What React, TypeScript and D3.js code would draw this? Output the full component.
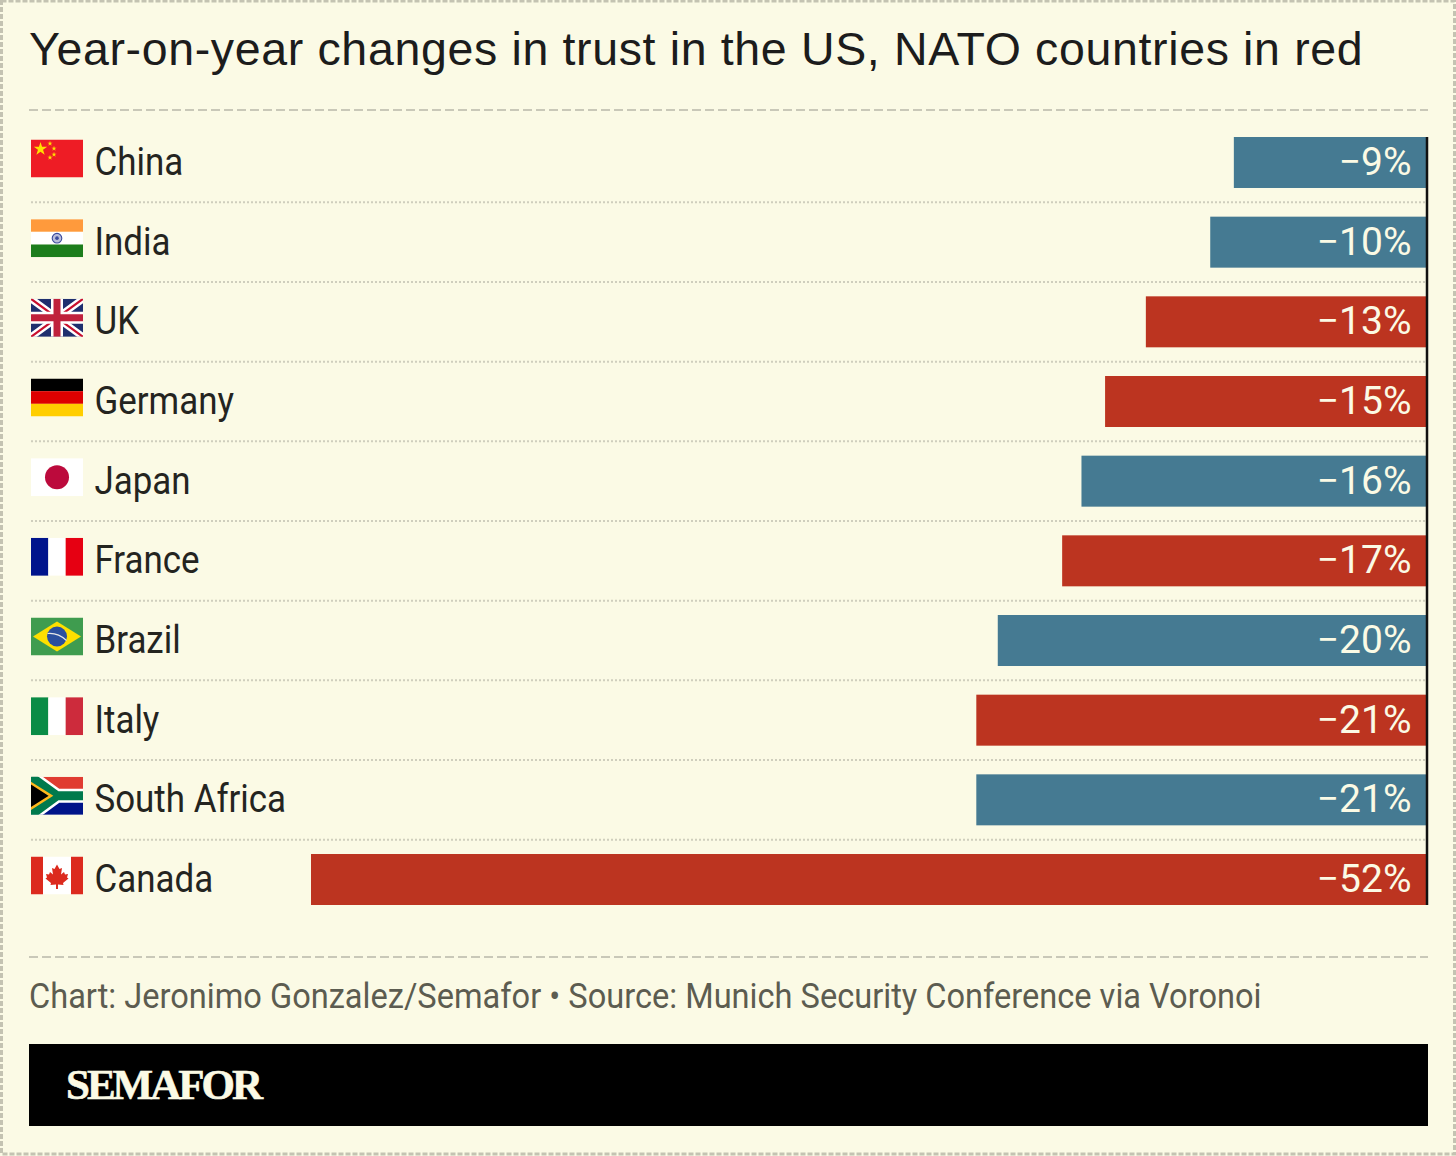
import * as d3 from 'd3';

const countries = ['China', 'India', 'UK', 'Germany', 'Japan', 'France', 'Brazil', 'Italy', 'South Africa', 'Canada'];
// bars are drawn from the unrounded look of the picture, labels show whole percents
const changes = [-9, -10.1, -13.1, -15, -16.1, -17, -20, -21, -21, -52];
const natoMembers = ['UK', 'Germany', 'France', 'Italy', 'Canada'];

const titleText = 'Year-on-year changes in trust in the US, NATO countries in red';
const footerText = 'Chart: Jeronimo Gonzalez/Semafor • Source: Munich Security Conference via Voronoi';
const brandText = 'SEMAFOR';

const width = 1456;
const height = 1156;
const bg = '#fbfae5';
const teal = '#457a92';
const red = '#bc3420';
const condensed = '"Roboto", sans-serif';

const FLAG_W = 52;
const FLAG_H = 38;

const x = d3.scaleLinear().domain([-52, 0]).range([311, 1427]);
const y = d3.scaleBand<string>().domain(countries).range([137, 905]).paddingInner(0.36);

const star = d3.symbol().type(d3.symbolStar);

function Stripes({ colors, vertical }: { colors: string[]; vertical?: boolean }) {
  const band = d3.scaleBand<number>().domain(colors.map((_c, i) => i)).range([0, vertical ? FLAG_W : FLAG_H]);
  return (
    <>
      {colors.map((c, i) =>
        vertical ? (
          <rect key={i} x={band(i)} y={0} width={band.bandwidth()} height={FLAG_H} fill={c} />
        ) : (
          <rect key={i} x={0} y={band(i)} width={FLAG_W} height={band.bandwidth()} fill={c} />
        ),
      )}
    </>
  );
}

function Flag({ name }: { name: string }) {
  switch (name) {
    case 'China':
      return (
        <>
          <rect width={FLAG_W} height={FLAG_H} fill="#ee1c25" />
          <path transform="translate(9.5,9.5)" d={star.size(55)() ?? ''} fill="#ffe000" />
          {[[19, 4], [23, 9], [23, 15], [19, 18]].map(([sx, sy], i) => (
            <path key={i} transform={`translate(${sx},${sy})`} d={star.size(8)() ?? ''} fill="#ffe000" />
          ))}
        </>
      );
    case 'India':
      return (
        <>
          <Stripes colors={['#ff9a3c', '#ffffff', '#1c7d1c']} />
          <circle cx={26} cy={19} r={4.8} fill="#b9bddb" stroke="#3a4a9c" strokeWidth={1.1} />
          <circle cx={26} cy={19} r={1.8} fill="#3a4a9c" />
        </>
      );
    case 'UK':
      return (
        <>
          <rect width={FLAG_W} height={FLAG_H} fill="#1f2f6e" />
          <path d="M0,0L52,38M52,0L0,38" stroke="#fff" strokeWidth={7} />
          <path d="M0,0L52,38M52,0L0,38" stroke="#c8102e" strokeWidth={2.2} />
          <path d="M26,0V38M0,19H52" stroke="#fff" strokeWidth={12} />
          <path d="M26,0V38M0,19H52" stroke="#c0213c" strokeWidth={7} />
        </>
      );
    case 'Germany':
      return <Stripes colors={['#000000', '#dd0000', '#ffce00']} />;
    case 'Japan':
      return (
        <>
          <rect width={FLAG_W} height={FLAG_H} fill="#ffffff" />
          <circle cx={26} cy={19} r={12} fill="#bc0a3c" />
        </>
      );
    case 'France':
      return <Stripes vertical colors={['#00148c', '#ffffff', '#e60012']} />;
    case 'Brazil':
      return (
        <>
          <rect width={FLAG_W} height={FLAG_H} fill="#3f9c4f" />
          <path d="M2,19L26,4L50,19L26,34Z" fill="#fedf00" />
          <circle cx={26} cy={19} r={10} fill="#2b4f9e" />
          <path d="M16.5,16Q27,15 35.5,23" fill="none" stroke="#e8e8e8" strokeWidth={1.2} />
        </>
      );
    case 'Italy':
      return <Stripes vertical colors={['#0a8c46', '#ffffff', '#cd2b3c']} />;
    case 'South Africa':
      return (
        <>
          <rect width={FLAG_W} height={19} fill="#e03c31" />
          <rect y={19} width={FLAG_W} height={19} fill="#001489" />
          <path d="M0,0L26,19L0,38M26,19H52" fill="none" stroke="#ffffff" strokeWidth={14} />
          <path d="M0,0L26,19L0,38M26,19H52" fill="none" stroke="#007a4d" strokeWidth={9} />
          <path d="M-2,5L20,19L-2,33Z" fill="#000" stroke="#ffb81c" strokeWidth={2.5} />
        </>
      );
    case 'Canada':
      return (
        <>
          <rect width={FLAG_W} height={FLAG_H} fill="#ffffff" />
          <rect width={12} height={FLAG_H} fill="#dc2a1e" />
          <rect x={40} width={12} height={FLAG_H} fill="#dc2a1e" />
          <path
            d="M26,8L28.5,12.5L31,11.5L30,18L33,15.5L34,18L37,17.5L36,21L37.5,22L32,26.5L32.5,28.5L27,28L27,32.5L25,32.5L25,28L19.5,28.5L20,26.5L14.5,22L16,21L15,17.5L18,18L19,15.5L22,18L21,11.5L23.5,12.5Z"
            fill="#dc2a1e"
          />
        </>
      );
    default:
      return null;
  }
}

export default function App() {
  const labelSize = 39;
  const rowStep = y.step();
  const rowGap = rowStep - y.bandwidth();

  return (
    <svg
      width={width}
      height={height}
      viewBox={`0 0 ${width} ${height}`}
      style={{ position: 'absolute', left: 0, top: 0, display: 'block' }}
    >
      <defs>
        <clipPath id="flag-clip">
          <rect width={FLAG_W} height={FLAG_H} />
        </clipPath>
      </defs>
      <rect width={width} height={height} fill={bg} />
      <rect
        x={1.5}
        y={1}
        width={width - 3}
        height={height - 3}
        fill="none"
        stroke="#c4c3b2"
        strokeWidth={3}
        strokeDasharray="5 2"
      />

      <text x={29} y={65} fontFamily='"Liberation Sans", Arial, sans-serif' fontSize={46.5} fill="#1c1c1c" letterSpacing={0.65}>
        {titleText}
      </text>
      <line x1={29} x2={1428} y1={110} y2={110} stroke="#c9c8b8" strokeWidth={2} strokeDasharray="9 4" />

      {countries.slice(0, -1).map((c) => (
        <line
          key={c}
          x1={31}
          x2={1427}
          y1={(y(c) ?? 0) + y.bandwidth() + rowGap / 2}
          y2={(y(c) ?? 0) + y.bandwidth() + rowGap / 2}
          stroke="#cfcebd"
          strokeWidth={2}
          strokeDasharray="2 2"
        />
      ))}

      {countries.map((c, i) => {
        const top = y(c) ?? 0;
        const left = x(changes[i]);
        return (
          <g key={c}>
            <g transform={`translate(31,${top + 2.5})`} clipPath="url(#flag-clip)">
              <Flag name={c} />
            </g>
            <text
              transform={`translate(94.5,${top + 38}) scale(0.895,1)`}
              fontFamily={condensed}
              fontSize={labelSize}
              fill="#24241f"
            >
              {c}
            </text>
            <rect
              x={left}
              y={top}
              width={x(0) - left}
              height={y.bandwidth()}
              fill={natoMembers.includes(c) ? red : teal}
            />
            <text
              x={1411.5}
              y={top + 38}
              textAnchor="end"
              fontFamily={condensed}
              fontSize={labelSize}
              fill={bg}
            >
              {`\u2212${Math.round(Math.abs(changes[i]))}%`}
            </text>
          </g>
        );
      })}

      <line x1={x(0)} x2={x(0)} y1={137} y2={905} stroke="#111" strokeWidth={2.5} />

      <line x1={29} x2={1428} y1={957} y2={957} stroke="#c9c8b8" strokeWidth={2} strokeDasharray="9 4" />
      <text
        transform="translate(29,1008) scale(0.931,1)"
        fontFamily={condensed}
        fontSize={35}
        fill="#5c5c50"
      >
        {footerText}
      </text>

      <rect x={29} y={1044} width={1399} height={82} fill="#000" />
      <text
        x={66}
        y={1099}
        fontFamily='"Liberation Serif", serif'
        fontWeight={700}
        fontSize={43}
        letterSpacing={-3}
        stroke={bg}
        strokeWidth={0.6}
        fill={bg}
      >
        {brandText}
      </text>
    </svg>
  );
}
